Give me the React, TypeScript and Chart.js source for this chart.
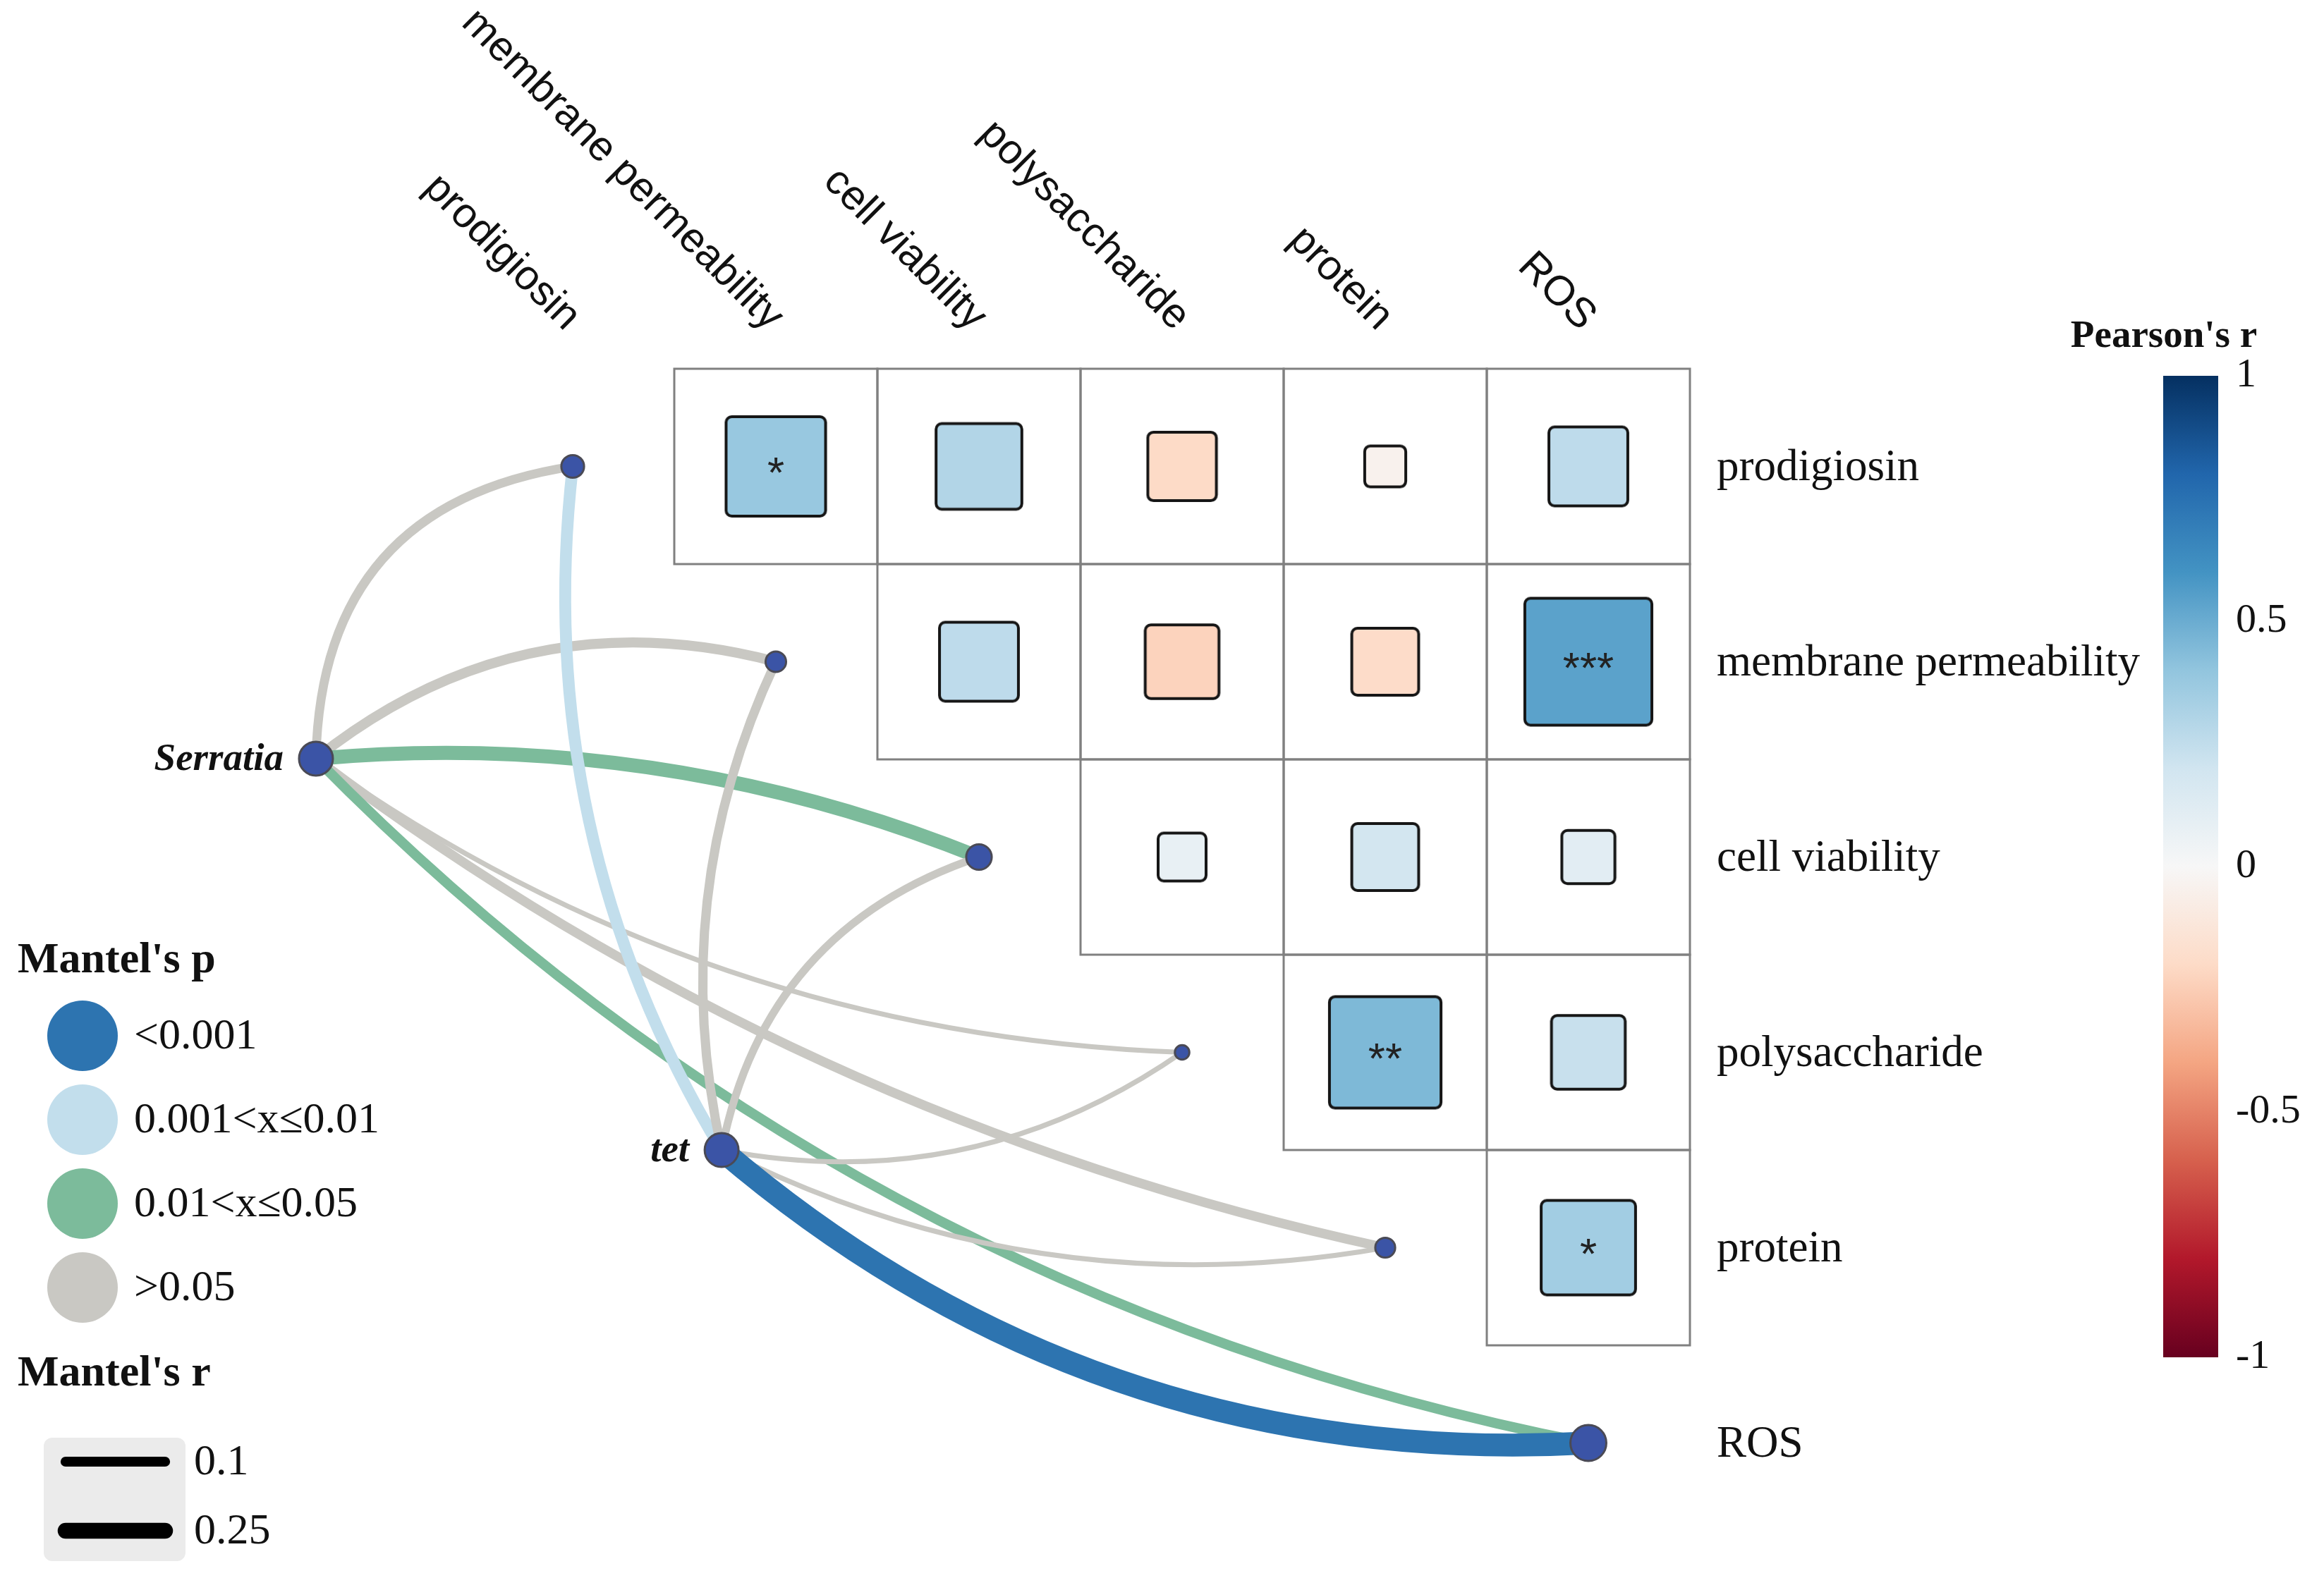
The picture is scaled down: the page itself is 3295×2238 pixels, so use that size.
import React, { useEffect, useRef } from "react";
import { Chart, registerables } from "chart.js";

Chart.register(...registerables);

// ---------------- data ----------------
const variables = ["prodigiosin", "membrane permeability", "cell viability", "polysaccharide", "protein", "ROS"];
const envNames = ["Serratia", "tet"];

// Pearson's r between variables (upper triangle, row < column)
const pearsonR: (number | null)[][] = [
  [null, 0.38, 0.3, -0.2, -0.04, 0.26],
  [null, null, 0.26, -0.23, -0.19, 0.54],
  [null, null, null, 0.08, 0.19, 0.11],
  [null, null, null, null, 0.45, 0.23],
  [null, null, null, null, null, 0.35],
  [null, null, null, null, null, null],
];
// Pearson p-values (used for stars)
const pearsonP: (number | null)[][] = [
  [null, 0.03, 0.12, 0.3, 0.8, 0.18],
  [null, null, 0.18, 0.25, 0.33, 0.0005],
  [null, null, null, 0.7, 0.34, 0.6],
  [null, null, null, null, 0.006, 0.24],
  [null, null, null, null, null, 0.04],
  [null, null, null, null, null, null],
];

// Mantel tests: env -> each variable
const mantelR_Serratia = [0.08, 0.1, 0.2, 0.025, 0.09, 0.1];
const mantelP_Serratia = [0.32, 0.21, 0.03, 0.6, 0.15, 0.04];
const mantelR_tet = [0.14, 0.085, 0.06, 0.025, 0.025, 0.52];
const mantelP_tet = [0.006, 0.25, 0.4, 0.7, 0.65, 0.0008];

const mantelPLabels = ["<0.001", "0.001<x\u22640.01", "0.01<x\u22640.05", ">0.05"];
const mantelRLegend = [0.1, 0.25];
const colorbarTicks = [1, 0.5, 0, -0.5, -1];
const colorbarTickLabels = ["1", "0.5", "0", "-0.5", "-1"];

// ---------------- layout / style ----------------
const W = 3295;
const H = 2238;
const CELL_W = 288;
const CELL_H = 277;
const ORIGIN_X = 812;
const ORIGIN_Y = 661.5;
const envAnchor = [
  { x: -1.264, y: 1.496 },
  { x: 0.733, y: 3.5 },
];
const linkCurvature = [
  [0.42, 0.25, 0.12, -0.15, -0.11, -0.155],
  [0.17, 0.17, 0.29, -0.21, -0.166, -0.2],
];
const P_COLORS = ["#2D74B0", "#C2DEEC", "#7CBB9B", "#C9C8C3"];
const NODE_FILL = "#3B54A6";
const NODE_BORDER = "#4A4A55";
const SERIF = '"Liberation Serif", "Times New Roman", serif';
const SANS = '"Liberation Sans", Arial, sans-serif';

const RDBU = ["#67001F", "#B2182B", "#D6604D", "#F4A582", "#FDDBC7", "#F7F7F7", "#D1E5F0", "#92C5DE", "#4393C3", "#2166AC", "#053061"];

function hexToRgb(h: string) {
  const n = parseInt(h.slice(1), 16);
  return [(n >> 16) & 255, (n >> 8) & 255, n & 255];
}
function rdbu(v: number) {
  const t = Math.max(0, Math.min(1, (v + 1) / 2)) * (RDBU.length - 1);
  const i = Math.min(RDBU.length - 2, Math.floor(t));
  const f = t - i;
  const a = hexToRgb(RDBU[i]);
  const b = hexToRgb(RDBU[i + 1]);
  const c = a.map((av, k) => Math.round(av + (b[k] - av) * f));
  return `rgb(${c[0]},${c[1]},${c[2]})`;
}
function pColor(p: number) {
  if (p < 0.001) return P_COLORS[0];
  if (p <= 0.01) return P_COLORS[1];
  if (p <= 0.05) return P_COLORS[2];
  return P_COLORS[3];
}
function rWidth(r: number) {
  return 45 * Math.sqrt(Math.max(r, 0));
}
function stars(p: number | null) {
  if (p == null) return "";
  if (p < 0.001) return "***";
  if (p < 0.01) return "**";
  if (p < 0.05) return "*";
  return "";
}
function roundRectPath(g: CanvasRenderingContext2D, x: number, y: number, w: number, h: number, r: number) {
  g.beginPath();
  g.moveTo(x + r, y);
  g.lineTo(x + w - r, y);
  g.arcTo(x + w, y, x + w, y + r, r);
  g.lineTo(x + w, y + h - r);
  g.arcTo(x + w, y + h, x + w - r, y + h, r);
  g.lineTo(x + r, y + h);
  g.arcTo(x, y + h, x, y + h - r, r);
  g.lineTo(x, y + r);
  g.arcTo(x, y, x + r, y, r);
  g.closePath();
}
function squareImage(side: number, fill: string) {
  const bw = 4;
  const s = Math.round(side + bw + 2);
  const c = document.createElement("canvas");
  c.width = s;
  c.height = s;
  const g = c.getContext("2d")!;
  const off = (s - side) / 2;
  roundRectPath(g, off, off, side, side, 8);
  g.fillStyle = fill;
  g.fill();
  g.lineWidth = bw;
  g.strokeStyle = "#161616";
  g.stroke();
  return c;
}

const mantelR = [mantelR_Serratia, mantelR_tet];
const mantelP = [mantelP_Serratia, mantelP_tet];

const mantelPlugin = {
  id: "mantelDecor",
  beforeDatasetsDraw(chart: any) {
    const { ctx } = chart;
    const xs = chart.scales.x;
    const ys = chart.scales.y;
    ctx.save();
    // grid cells
    ctx.strokeStyle = "#808080";
    ctx.lineWidth = 3;
    for (let i = 0; i < variables.length; i++) {
      for (let j = i + 1; j < variables.length; j++) {
        if (pearsonR[i][j] == null) continue;
        const x0 = xs.getPixelForValue(j - 0.5);
        const x1 = xs.getPixelForValue(j + 0.5);
        const y0 = ys.getPixelForValue(i - 0.5);
        const y1 = ys.getPixelForValue(i + 0.5);
        ctx.strokeRect(x0, y0, x1 - x0, y1 - y0);
      }
    }
    // links
    ctx.lineCap = "butt";
    for (let e = 0; e < envNames.length; e++) {
      for (let k = 0; k < variables.length; k++) {
        const sx = xs.getPixelForValue(envAnchor[e].x);
        const sy = ys.getPixelForValue(envAnchor[e].y);
        const tx = xs.getPixelForValue(k);
        const ty = ys.getPixelForValue(k);
        const dx = tx - sx;
        const dy = ty - sy;
        const c = linkCurvature[e][k];
        const cx = (sx + tx) / 2 + c * dy;
        const cy = (sy + ty) / 2 - c * dx;
        ctx.beginPath();
        ctx.moveTo(sx, sy);
        ctx.quadraticCurveTo(cx, cy, tx, ty);
        ctx.strokeStyle = pColor(mantelP[e][k]);
        ctx.lineWidth = rWidth(mantelR[e][k]);
        ctx.stroke();
      }
    }
    ctx.restore();
  },
  afterDatasetsDraw(chart: any) {
    const { ctx } = chart;
    const xs = chart.scales.x;
    const ys = chart.scales.y;
    ctx.save();
    ctx.fillStyle = "#222";
    ctx.font = `62px ${SANS}`;
    ctx.textAlign = "center";
    ctx.textBaseline = "middle";
    for (let i = 0; i < variables.length; i++) {
      for (let j = i + 1; j < variables.length; j++) {
        const s = stars(pearsonP[i][j]);
        if (!s) continue;
        ctx.fillText(s, xs.getPixelForValue(j), ys.getPixelForValue(i) + 12);
      }
    }
    ctx.restore();
  },
  afterDraw(chart: any) {
    const { ctx } = chart;
    const xs = chart.scales.x;
    const ys = chart.scales.y;
    ctx.save();
    ctx.fillStyle = "#111";
    // top column labels (rotated)
    ctx.font = `59px ${SANS}`;
    ctx.textAlign = "right";
    ctx.textBaseline = "middle";
    variables.forEach((v, j) => {
      ctx.save();
      ctx.translate(xs.getPixelForValue(j), ys.getPixelForValue(-0.5) - 64);
      ctx.rotate(Math.PI / 4);
      ctx.fillText(v, 0, 0);
      ctx.restore();
    });
    // right row labels
    ctx.font = `63px ${SERIF}`;
    ctx.textAlign = "left";
    variables.forEach((v, i) => {
      ctx.fillText(v, xs.getPixelForValue(variables.length - 0.5) + 38, ys.getPixelForValue(i) + 3);
    });
    // env labels
    ctx.font = `italic bold 55px ${SERIF}`;
    ctx.textAlign = "right";
    envNames.forEach((n, e) => {
      ctx.fillText(n, xs.getPixelForValue(envAnchor[e].x) - 46, ys.getPixelForValue(envAnchor[e].y) + 2);
    });

    // colorbar
    const cbX = 3067, cbW = 78, cbTop = 533, cbBot = 1925;
    const grad = ctx.createLinearGradient(0, cbTop, 0, cbBot);
    RDBU.slice().reverse().forEach((c, i) => grad.addColorStop(i / (RDBU.length - 1), c));
    ctx.fillStyle = grad;
    ctx.fillRect(cbX, cbTop, cbW, cbBot - cbTop);
    ctx.fillStyle = "#111";
    ctx.font = `bold 55px ${SERIF}`;
    ctx.textAlign = "center";
    ctx.textBaseline = "middle";
    ctx.fillText("Pearson's r", 3068, 478);
    ctx.font = `58px ${SERIF}`;
    ctx.textAlign = "left";
    colorbarTicks.forEach((t, i) => {
      const yy = cbTop + ((1 - t) / 2) * (cbBot - cbTop);
      ctx.fillText(colorbarTickLabels[i], 3170, yy);
    });

    // Mantel's p legend
    ctx.font = `bold 62px ${SERIF}`;
    ctx.textAlign = "left";
    ctx.fillText("Mantel's p", 25, 1363);
    const pys = [1469, 1588, 1707, 1826];
    mantelPLabels.forEach((lab, i) => {
      ctx.beginPath();
      ctx.arc(117, pys[i], 50, 0, Math.PI * 2);
      ctx.fillStyle = P_COLORS[i];
      ctx.fill();
      ctx.fillStyle = "#111";
      ctx.font = `62px ${SERIF}`;
      ctx.fillText(lab, 190, pys[i] + 2);
    });
    // Mantel's r legend
    ctx.font = `bold 62px ${SERIF}`;
    ctx.fillText("Mantel's r", 25, 1949);
    ctx.fillStyle = "#EBEBEB";
    roundRectPath(ctx, 62, 2039, 201, 175, 12);
    ctx.fill();
    const rys = [2073, 2171];
    ctx.strokeStyle = "#000";
    ctx.lineCap = "round";
    mantelRLegend.forEach((r, i) => {
      ctx.beginPath();
      ctx.lineWidth = rWidth(r);
      ctx.moveTo(93, rys[i]);
      ctx.lineTo(234, rys[i]);
      ctx.stroke();
      ctx.fillStyle = "#111";
      ctx.font = `62px ${SERIF}`;
      ctx.fillText(String(r), 275, rys[i] + 2);
    });
    ctx.restore();
  },
};

export default function App() {
  const ref = useRef<HTMLCanvasElement | null>(null);
  useEffect(() => {
    document.body.style.margin = "0";
    const canvas = ref.current;
    if (!canvas) return;

    const cells: { x: number; y: number; r: number }[] = [];
    for (let i = 0; i < variables.length; i++) {
      for (let j = i + 1; j < variables.length; j++) {
        const r = pearsonR[i][j];
        if (r == null) continue;
        cells.push({ x: j, y: i, r });
      }
    }
    const images = cells.map((c) => squareImage(CELL_H * (0.175 + 0.88 * Math.abs(c.r)), rdbu(c.r)));

    const nodeRadius = variables.map((_, k) => {
      const w = Math.max(...mantelR.map((arr) => rWidth(arr[k])));
      return 6 + 0.6 * w;
    });

    const chart = new Chart(canvas, {
      type: "scatter",
      data: {
        datasets: [
          {
            label: "env",
            data: envAnchor.map((a) => ({ x: a.x, y: a.y })),
            pointRadius: 24,
            backgroundColor: NODE_FILL,
            borderColor: NODE_BORDER,
            borderWidth: 3,
          },
          {
            label: "variables",
            data: variables.map((_, k) => ({ x: k, y: k })),
            pointRadius: nodeRadius,
            backgroundColor: NODE_FILL,
            borderColor: NODE_BORDER,
            borderWidth: 3,
          },
          {
            label: "pearson",
            data: cells.map((c) => ({ x: c.x, y: c.y })),
            pointRadius: 2,
            pointStyle: (ctx: any) => images[ctx.dataIndex],
          } as any,
        ],
      },
      options: {
        animation: false,
        responsive: false,
        devicePixelRatio: 1,
        events: [],
        layout: { padding: 0, autoPadding: false },
        plugins: { legend: { display: false }, tooltip: { enabled: false } },
        scales: {
          x: { type: "linear", display: false, min: -ORIGIN_X / CELL_W, max: (W - ORIGIN_X) / CELL_W },
          y: { type: "linear", display: false, reverse: true, min: -ORIGIN_Y / CELL_H, max: (H - ORIGIN_Y) / CELL_H },
        },
      },
      plugins: [mantelPlugin],
    });
    return () => chart.destroy();
  }, []);

  return (
    <div style={{ width: W, height: H, background: "#fff" }}>
      <canvas ref={ref} width={W} height={H} style={{ display: "block", width: W, height: H }} />
    </div>
  );
}
